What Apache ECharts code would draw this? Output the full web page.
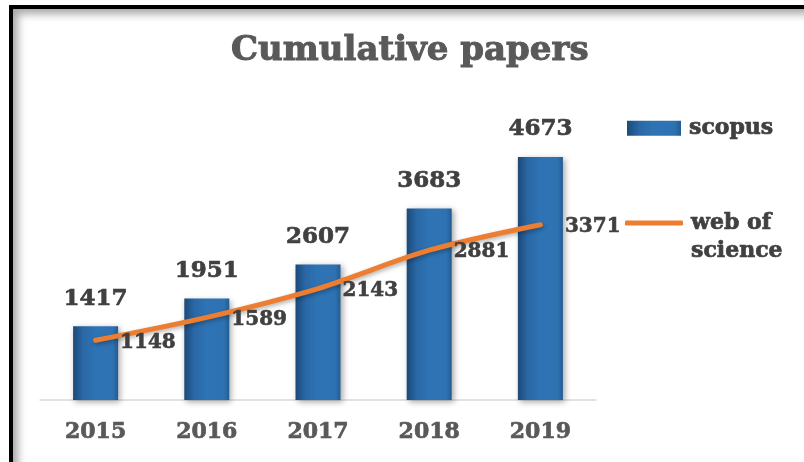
<!DOCTYPE html>
<html>
<head>
<meta charset="utf-8">
<script src="https://cdn.jsdelivr.net/npm/echarts@6/dist/echarts.min.js"></script>
<style>
  html, body { margin: 0; padding: 0; background: #fff; }
  #chart { position: absolute; left: 0; top: 0; width: 804px; height: 462px; }
  #frame { position: absolute; left: 9px; top: 5px; width: 800px; height: 460px;
    border-left: 4px solid #000; border-top: 4px solid #000;
    box-shadow: inset 7px 7px 9px -2px rgba(0,0,0,0.35); pointer-events: none; }
</style>
</head>
<body>
<div id="chart"></div>
<div id="frame"></div>
<script>
const categories = ['2015', '2016', '2017', '2018', '2019'];
const scopus = [1417, 1951, 2607, 3683, 4673];
const webOfScience = [1148, 1589, 2143, 2881, 3371];
const titleText = 'Cumulative papers';
const seriesNames = ['scopus', 'web of science'];

const FONT = 'DejaVu Serif';
const chart = echarts.init(document.getElementById('chart'), null, { renderer: 'canvas' });

const barGradient = new echarts.graphic.LinearGradient(0, 0, 1, 0, [
  { offset: 0, color: '#1b4a78' },
  { offset: 0.22, color: '#2a67a6' },
  { offset: 0.5, color: '#2e74b5' },
  { offset: 0.88, color: '#2e72b2' },
  { offset: 1, color: '#225c94' }
]);

function heavy(color, size, w) {
  return { fontFamily: FONT, fontWeight: 'bold', fontSize: size, color: color,
           textBorderColor: color, textBorderWidth: w };
}

chart.setOption({
  animation: false,
  backgroundColor: '#ffffff',
  title: {
    text: titleText,
    left: 231,
    top: 34,
    padding: 0,
    textStyle: heavy('#595959', 34, 1)
  },
  legend: [
    {
      data: [seriesNames[0]],
      left: 627, top: 117, padding: 0,
      itemWidth: 54, itemHeight: 15,
      icon: 'rect',
      selectedMode: false,
      textStyle: Object.assign(heavy('#404040', 22, 0.7), { padding: [0, 0, 0, 3] })
    },
    {
      data: [seriesNames[1]],
      left: 625, top: 181, padding: 0,
      itemWidth: 58, itemHeight: 5,
      icon: 'roundRect',
      selectedMode: false,
      itemStyle: { color: '#ed7d31' },
      formatter: function () { return ' \nweb of\nscience'; },
      textStyle: Object.assign(heavy('#404040', 22, 0.7), { lineHeight: 28, padding: [0, 0, 0, 3] })
    }
  ],
  grid: { left: 40, right: 208, top: 88, bottom: 62, containLabel: false },
  xAxis: {
    type: 'category',
    data: categories,
    axisLine: { lineStyle: { color: '#d9d9d9', width: 1.5 } },
    axisTick: { show: false },
    axisLabel: Object.assign(heavy('#595959', 22, 0.7), { margin: 21 })
  },
  yAxis: {
    type: 'value', min: 0, max: 6000, show: false,
    splitLine: { show: false }
  },
  series: [
    {
      name: seriesNames[0],
      type: 'bar',
      data: scopus,
      barWidth: 45,
      itemStyle: {
        color: barGradient,
        shadowColor: 'rgba(0,0,0,0.35)', shadowBlur: 6, shadowOffsetX: 2, shadowOffsetY: 2
      },
      label: Object.assign({ show: true, position: 'top', distance: 16 }, heavy('#404040', 23, 0.7))
    },
    {
      name: seriesNames[1],
      type: 'line',
      data: webOfScience,
      smooth: 0.3,
      symbol: 'circle', symbolSize: 1,
      itemStyle: { color: '#ed7d31' },
      lineStyle: { color: '#ed7d31', width: 5, cap: 'round',
        shadowColor: 'rgba(0,0,0,0.3)', shadowBlur: 4, shadowOffsetX: 1, shadowOffsetY: 2 },
      label: Object.assign({ show: true, position: 'right', distance: 24, offset: [0, 2] }, heavy('#404040', 20, 0.6)),
      z: 3
    }
  ]
});
</script>
</body>
</html>
